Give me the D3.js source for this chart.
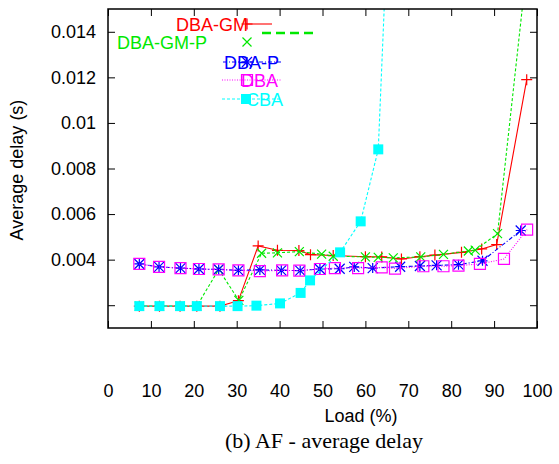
<!DOCTYPE html>
<html>
<head>
<meta charset="utf-8">
<script src="https://cdn.jsdelivr.net/npm/d3@7"></script>
<style>
  body { margin: 0; background: #fff; }
  svg text { font-family: "Liberation Sans", Arial, sans-serif; }
</style>
</head>
<body>
<script>
// Series names
const seriesNames = ["DBA-GM", "DBA-GM-P", "DBA-P", "DBA", "CBA"];

// Load (%) and average delay (s) per series
const loadGM = [7.3, 12.0, 16.8, 20.7, 26.1, 30.4, 35.0, 39.5, 44.5, 47.2, 52.5, 60.0, 63.8, 68.4, 72.7, 76.2, 82.4, 87.1, 90.6, 97.6];
const delayGM = [0.00196, 0.00196, 0.00196, 0.00196, 0.00196, 0.0022, 0.0046, 0.00441, 0.0044, 0.00422, 0.00418, 0.00413, 0.00412, 0.00403, 0.00413, 0.0042, 0.00432, 0.00447, 0.00466, 0.0119];

const loadGMP = [7.3, 12.0, 16.8, 20.7, 25.8, 30.5, 35.8, 39.5, 44.6, 49.8, 52.5, 60.0, 63.0, 66.5, 72.9, 78.2, 84.0, 85.6, 90.8, 97.6];
const delayGMP = [0.00196, 0.00196, 0.00196, 0.00196, 0.00357, 0.00221, 0.00428, 0.0043, 0.00435, 0.00424, 0.00415, 0.00412, 0.0041, 0.00408, 0.00412, 0.00423, 0.00438, 0.00442, 0.00514, 0.0168];

const loadP = [7.3, 11.9, 16.9, 21.2, 25.8, 30.4, 35.4, 40.4, 44.8, 49.4, 54.0, 57.4, 61.7, 68.1, 72.7, 76.6, 81.7, 87.3, 96.2];
const delayP = [0.00381, 0.00368, 0.00363, 0.00359, 0.00357, 0.00353, 0.00355, 0.00353, 0.00352, 0.00359, 0.0036, 0.00368, 0.00363, 0.00369, 0.00372, 0.00375, 0.00378, 0.00395, 0.00528];

const loadDBA = [7.3, 11.9, 16.9, 21.2, 25.8, 30.4, 35.4, 40.6, 44.6, 49.4, 52.9, 58.3, 63.8, 66.9, 73.5, 78.2, 81.7, 86.7, 92.3, 97.7];
const delayDBA = [0.00381, 0.00368, 0.00363, 0.00359, 0.00357, 0.00353, 0.0035, 0.00353, 0.00352, 0.00359, 0.00363, 0.00363, 0.00366, 0.00361, 0.00371, 0.00371, 0.00374, 0.00381, 0.00403, 0.00532];

const loadCBA = [7.3, 12.0, 16.8, 20.7, 26.1, 30.2, 34.6, 40.1, 44.9, 47.1, 54.1, 58.9, 63.0, 67.5];
const delayCBA = [0.00196, 0.00196, 0.00196, 0.00196, 0.00196, 0.00196, 0.00198, 0.00208, 0.00254, 0.00309, 0.00432, 0.00568, 0.00884, 0.029];

// Axis ticks
const xTicks = [0, 10, 20, 30, 40, 50, 60, 70, 80, 90, 100];
const yTicks = [0.002, 0.004, 0.006, 0.008, 0.01, 0.012, 0.014];
const yTickLabels = ["", "0.004", "0.006", "0.008", "0.01", "0.012", "0.014"];

const xTitle = "Load (%)";
const yTitle = "Average delay (s)";
const caption = "(b) AF - average delay";

(() => {
  const width = 559;
  const height = 464;
  const plotLeft = 108, plotRight = 537, plotTop = 9, plotBottom = 328;

  const x = d3.scaleLinear().domain([0, 100]).range([plotLeft, plotRight]);
  const y = d3.scaleLinear().domain([0.001, 0.015]).range([plotBottom, plotTop]);

  const svg = d3.select("body").append("svg")
    .attr("width", width)
    .attr("height", height);

  svg.append("defs").append("clipPath").attr("id", "plot-clip")
    .append("rect")
    .attr("x", plotLeft).attr("y", plotTop)
    .attr("width", plotRight - plotLeft).attr("height", plotBottom - plotTop);

  // Marker shapes, drawn around (0,0)
  const markerPath = (kind, r) => {
    const p = d3.path();
    if (kind === "plus" || kind === "star") {
      p.moveTo(-r, 0); p.lineTo(r, 0);
      p.moveTo(0, -r); p.lineTo(0, r);
    }
    if (kind === "cross" || kind === "star") {
      p.moveTo(-r, -r); p.lineTo(r, r);
      p.moveTo(-r, r); p.lineTo(r, -r);
    }
    if (kind === "square" || kind === "fsquare") {
      p.rect(-r, -r, 2 * r, 2 * r);
    }
    return p.toString();
  };

  const styles = {
    "DBA-GM":   { color: "#ff0000", dash: null,      marker: "plus",    r: 5.5 },
    "DBA-GM-P": { color: "#00e800", dash: "3,2",     marker: "cross",   r: 4.5 },
    "DBA-P":    { color: "#0000ff", dash: "4,2,1,2", marker: "star",    r: 5 },
    "DBA":      { color: "#ff00ff", dash: "1,1.5",   marker: "square",  r: 5.5 },
    "CBA":      { color: "#00ffff", dash: "3,2",     marker: "fsquare", r: 5 }
  };

  const series = [
    { name: "DBA-GM", xs: loadGM, ys: delayGM },
    { name: "DBA-GM-P", xs: loadGMP, ys: delayGMP },
    { name: "DBA-P", xs: loadP, ys: delayP },
    { name: "DBA", xs: loadDBA, ys: delayDBA },
    { name: "CBA", xs: loadCBA, ys: delayCBA }
  ];

  const drawMarker = (g, st, cx, cy) => {
    const filled = st.marker === "fsquare";
    g.append("path")
      .attr("transform", `translate(${cx},${cy})`)
      .attr("d", markerPath(st.marker, st.r))
      .attr("fill", filled ? st.color : "none")
      .attr("stroke", st.color)
      .attr("stroke-width", filled ? 0 : 1.2);
  };

  // Lines and markers in plotting order, CBA ends up on top
  const plot = svg.append("g").attr("clip-path", "url(#plot-clip)");
  const line = d3.line().x(d => x(d[0])).y(d => y(d[1]));

  series.forEach(s => {
    const st = styles[s.name];
    const pts = s.xs.map((v, i) => [v, s.ys[i]]);
    const g = plot.append("g");
    g.append("path")
      .datum(pts)
      .attr("d", line)
      .attr("fill", "none")
      .attr("stroke", st.color)
      .attr("stroke-width", 1.1)
      .attr("stroke-dasharray", st.dash);
    pts.forEach(d => drawMarker(g, st, x(d[0]), y(d[1])));
  });

  // Axes: ticks point inward on all four sides
  const axisStyle = g => {
    g.select(".domain").remove();
    g.selectAll(".tick line").attr("stroke", "#000").attr("stroke-width", 1);
    g.selectAll("text").attr("fill", "#000").style("font-size", "18px");
  };

  svg.append("g")
    .attr("transform", `translate(${plotLeft},0)`)
    .call(d3.axisLeft(y).tickValues(yTicks).tickSize(-7).tickPadding(12)
      .tickFormat((d, i) => yTickLabels[i]))
    .call(axisStyle);

  svg.append("g")
    .attr("transform", `translate(${plotRight},0)`)
    .call(d3.axisRight(y).tickValues(yTicks).tickSize(-7).tickFormat(""))
    .call(axisStyle);

  svg.append("g")
    .attr("transform", `translate(0,${plotBottom})`)
    .call(d3.axisBottom(x).tickValues(xTicks).tickSize(-7).tickPadding(56))
    .call(axisStyle);

  svg.append("g")
    .attr("transform", `translate(0,${plotTop})`)
    .call(d3.axisTop(x).tickValues(xTicks).tickSize(-7).tickFormat(""))
    .call(axisStyle);

  // Frame
  svg.append("rect")
    .attr("x", plotLeft).attr("y", plotTop)
    .attr("width", plotRight - plotLeft).attr("height", plotBottom - plotTop)
    .attr("fill", "none")
    .attr("stroke", "#000")
    .attr("stroke-width", 1.5);

  // Legend (labels sit where gnuplot left them)
  const legendLayout = {
    "DBA-GM":   { tx: 248, ty: 31,  anchor: "end",   x1: 246, x2: 272, ly: 24, mx: 247, lw: 1.1 },
    "DBA-GM-P": { tx: 117, ty: 49,  anchor: "start", x1: 262, x2: 314, ly: 33, mx: 247, my: 42, lw: 2.5, dash: "9,5" },
    "DBA-P":    { tx: 224, ty: 69,  anchor: "start", x1: 223, x2: 282, ly: 62, mx: 247, lw: 1.1 },
    "DBA":      { tx: 241, ty: 87,  anchor: "start", x1: 222, x2: 281, ly: 80, mx: 247, lw: 1.1 },
    "CBA":      { tx: 246, ty: 106, anchor: "start", x1: 222, x2: 281, ly: 99, mx: 246, lw: 1.1 }
  };

  const legend = svg.append("g");
  seriesNames.forEach(name => {
    const st = styles[name];
    const lay = legendLayout[name];
    legend.append("line")
      .attr("x1", lay.x1).attr("x2", lay.x2)
      .attr("y1", lay.ly).attr("y2", lay.ly)
      .attr("stroke", st.color)
      .attr("stroke-width", lay.lw)
      .attr("stroke-dasharray", lay.dash || st.dash);
    legend.append("text")
      .attr("x", lay.tx).attr("y", lay.ty)
      .attr("text-anchor", lay.anchor)
      .attr("fill", st.color)
      .style("font-size", "18px")
      .text(name);
    drawMarker(legend, st, lay.mx, lay.my || lay.ly);
  });

  // Titles
  svg.append("text")
    .attr("x", 361).attr("y", 422)
    .attr("text-anchor", "middle")
    .style("font-size", "18px")
    .text(xTitle);

  svg.append("text")
    .attr("transform", "translate(23,170) rotate(-90)")
    .attr("text-anchor", "middle")
    .style("font-size", "18px")
    .text(yTitle);

  svg.append("text")
    .attr("x", 324).attr("y", 448)
    .attr("text-anchor", "middle")
    .style("font-family", "'Liberation Serif', 'Times New Roman', serif")
    .style("font-size", "22px")
    .text(caption);
})();
</script>
</body>
</html>
